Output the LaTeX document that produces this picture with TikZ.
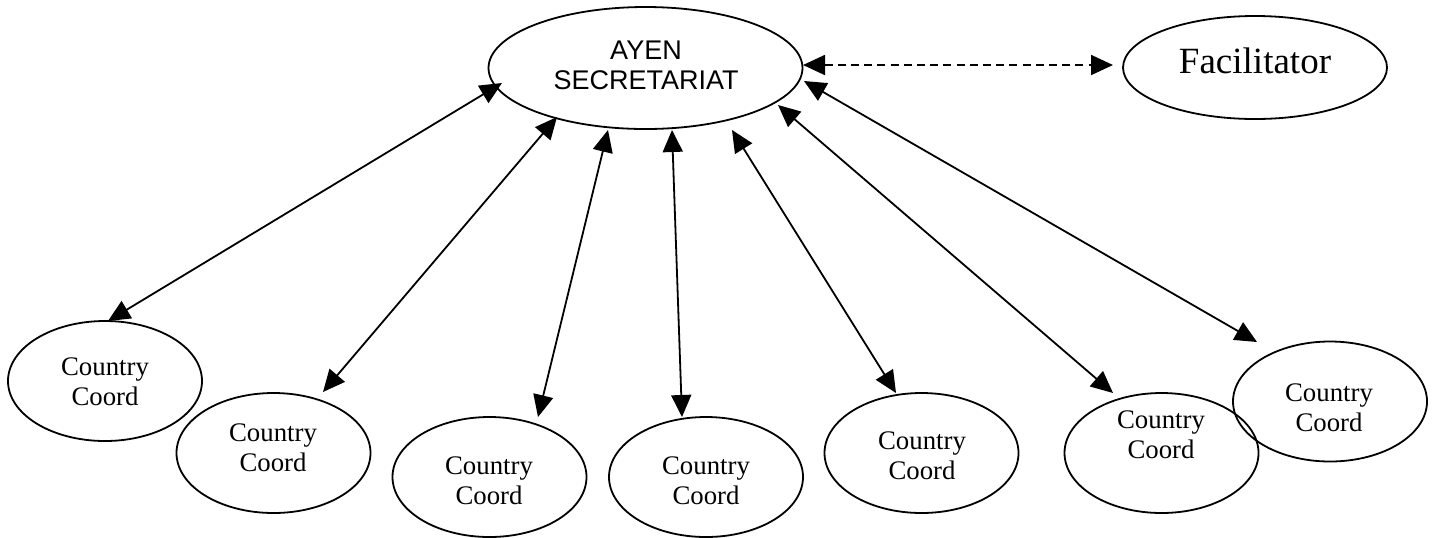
\documentclass[tikz,border=0pt]{standalone}
\usepackage{fontspec}
\setmainfont{Liberation Serif}
\newfontfamily\arialfont{Liberation Sans}
\usetikzlibrary{shapes.geometric,arrows.meta}
\tikzset{
  ell/.style={draw, ellipse, line width=0.9pt, inner sep=0pt},
  cc/.style={ell, minimum width=97pt, minimum height=60pt},
  cctext/.style={align=center, font=\fontsize{13.4pt}{15pt}\selectfont, inner sep=0pt},
  link/.style={line width=0.9pt, {Triangle[length=11pt,width=10pt]}-{Triangle[length=11pt,width=10pt]}},
  dlink/.style={link, dash pattern=on 4pt off 2.6pt},
}
\begin{document}
\begin{tikzpicture}[x=0.5pt,y=-0.5pt]
\useasboundingbox (0,0) rectangle (1433,537);
% main nodes
\node[ell, minimum width=157pt, minimum height=61pt] (A) at (645.5,68) {};
\node[align=center, font=\arialfont\fontsize{13.5pt}{15pt}\selectfont, inner sep=0pt] (At) at (646,65.5) {AYEN\\SECRETARIAT};
\node[ell, minimum width=132pt, minimum height=51.5pt] (F) at (1255,67.5) {};
\node[font=\fontsize{18.5pt}{20pt}\selectfont, inner sep=0pt] (Ft) at (1255,61) {Facilitator};
% country coordinators
\node[cc] (C1) at (105,381) {};
\node[cc] (C2) at (273.5,453) {};
\node[cc] (C3) at (489.5,477) {};
\node[cc] (C4) at (706,477) {};
\node[cc] (C5) at (921.5,453) {};
\node[cc] (C7) at (1330,401.5) {};
\node[cc] (C6) at (1161.5,453) {};
\node[cctext] (T1) at (105,382) {Country\\Coord};
\node[cctext] (T2) at (273,448) {Country\\Coord};
\node[cctext] (T3) at (489,481) {Country\\Coord};
\node[cctext] (T4) at (706,481) {Country\\Coord};
\node[cctext] (T5) at (922,456) {Country\\Coord};
\node[cctext] (T6) at (1161,435) {Country\\Coord};
\node[cctext] (T7) at (1329,407.5) {Country\\Coord};
% connector end points
\coordinate (a1) at (502,83);   \coordinate (b1) at (108,321);
\coordinate (a2) at (557,117);  \coordinate (b2) at (323,392);
\coordinate (a3) at (608,130);  \coordinate (b3) at (538,417);
\coordinate (a4) at (672,130);  \coordinate (b4) at (682,417);
\coordinate (a5) at (732,130);  \coordinate (b5) at (896,393);
\coordinate (a6) at (778,105);  \coordinate (b6) at (1113,393);
\coordinate (a7) at (804,81);   \coordinate (b7) at (1257,342);
\coordinate (d1) at (803,65);   \coordinate (d2) at (1113,65);
\foreach \i in {1,...,7}{\draw[link] (a\i) -- (b\i);}
\draw[dlink] (d1) -- (d2);
\end{tikzpicture}
\end{document}
